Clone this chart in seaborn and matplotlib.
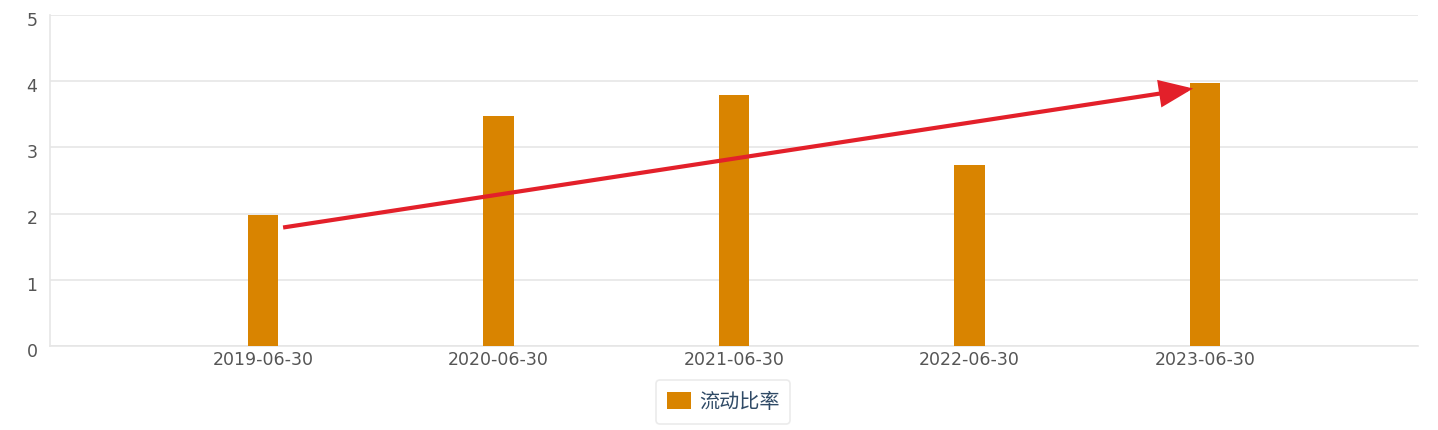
import seaborn as sns
import pandas as pd
import matplotlib.pyplot as plt
from matplotlib.patches import Patch
from matplotlib.transforms import ScaledTranslation

# data
dates = ["2019-06-30", "2020-06-30", "2021-06-30", "2022-06-30", "2023-06-30"]
current_ratio = [1.98, 3.47, 3.79, 2.73, 3.98]
series_name = "流动比率"
y_ticks = [0, 1, 2, 3, 4, 5]

# trend arrow (category index, value)
arrow_start = [0.085, 1.79]
arrow_end = [3.95, 3.89]

bar_color = "#d98400"
grid_color = "#e6e6e6"
text_color = "#555555"

sns.set_theme(style="white")
plt.rcParams['font.family'] = ['DejaVu Sans', 'Noto Sans CJK SC']

df = pd.DataFrame({"date": dates, "value": current_ratio})

fig = plt.figure(figsize=(14.38, 4.31), dpi=100)
ax = fig.add_axes([50 / 1438, 1 - 347 / 431, (1418 - 50) / 1438, (347 - 16) / 431])

sns.barplot(data=df, x="date", y="value", color=bar_color, saturation=1,
            width=0.13, ax=ax, zorder=3)
for p in ax.patches:
    p.set_edgecolor("none")

ax.set_xlim(-0.905, 4.905)
ax.set_ylim(0, 5)
ax.set_yticks(y_ticks)
ax.set_xlabel("")
ax.set_ylabel("")
ax.yaxis.grid(True, color=grid_color, linewidth=1.2, zorder=0)
ax.set_axisbelow(True)

for side in ["top", "right"]:
    ax.spines[side].set_visible(False)
for side in ["left", "bottom"]:
    ax.spines[side].set_color(grid_color)
    ax.spines[side].set_linewidth(1.2)

ax.tick_params(axis="both", length=0, labelsize=12.5, labelcolor=text_color)
ax.tick_params(axis="y", pad=9)
ax.tick_params(axis="x", pad=3)
shift = ScaledTranslation(0, -2 / 72, fig.dpi_scale_trans)
for lab in ax.get_yticklabels():
    lab.set_verticalalignment("center_baseline")
    lab.set_transform(lab.get_transform() + shift)

ax.annotate("", xy=arrow_end, xytext=arrow_start,
            arrowprops=dict(arrowstyle="-|>,head_length=1.6,head_width=0.65",
                            color="#e3202a", lw=3, shrinkA=0, shrinkB=0,
                            joinstyle="miter", capstyle="butt"),
            zorder=5)

handles = [Patch(facecolor=bar_color, edgecolor="none", label=series_name)]
leg = fig.legend(handles=handles, loc="center", bbox_to_anchor=(723 / 1438, 28 / 431),
                 frameon=True, fancybox=True, handlelength=1.2,
                 handleheight=0.9, handletextpad=0.4, borderpad=0.55,
                 prop={"family": ["Noto Sans CJK SC"], "size": 14.5})
leg.get_frame().set_edgecolor("#e6e6e6")
leg.get_frame().set_linewidth(1.2)
for t in leg.get_texts():
    t.set_color("#2f4a66")

fig.savefig("out.png", dpi=100)
